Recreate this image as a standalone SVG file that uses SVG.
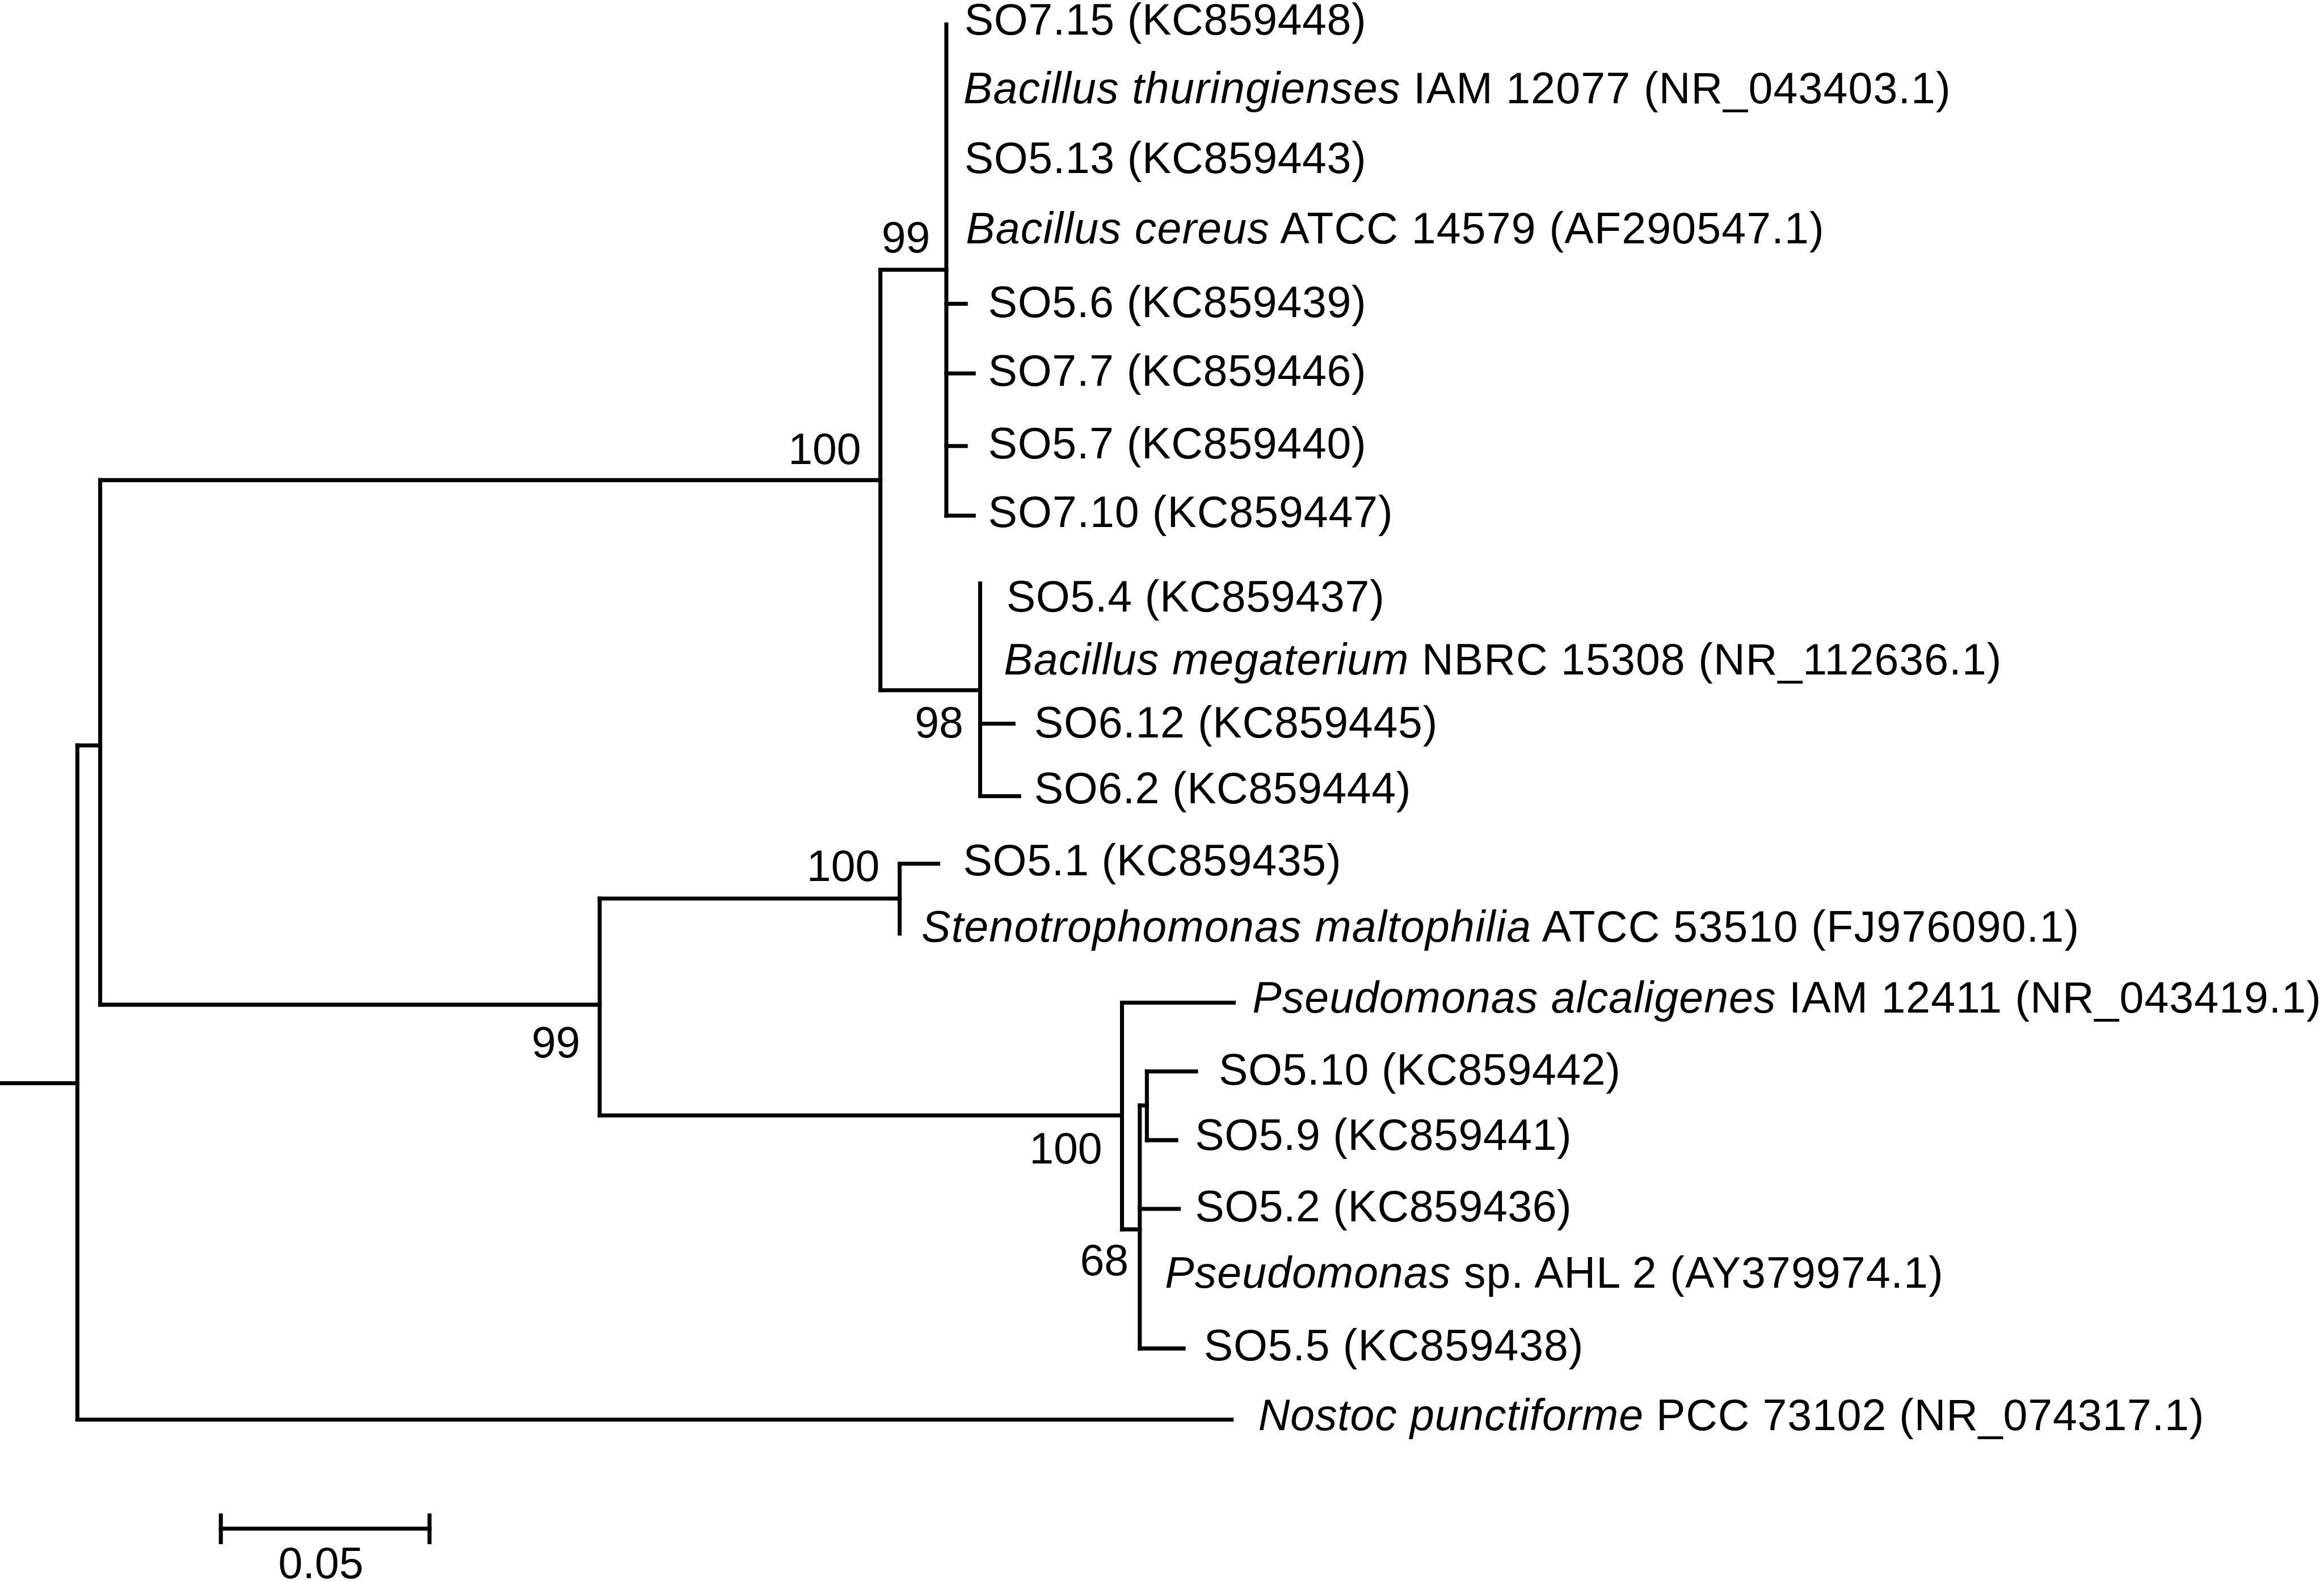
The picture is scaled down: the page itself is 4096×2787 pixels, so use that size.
<svg xmlns="http://www.w3.org/2000/svg" width="4096" height="2787" viewBox="0 0 4096 2787">
<style>
.br{fill:none;stroke:#000;stroke-width:2.7;stroke-linecap:square;stroke-linejoin:miter}
.lb{font-family:"Liberation Sans",Arial,sans-serif;font-size:29.5px;fill:#000}
.bs{font-family:"Liberation Sans",Arial,sans-serif;font-size:29.5px;fill:#000;text-anchor:end}
.it{font-style:italic}
</style>
<rect width="4096" height="2787" fill="#fff"/>
<g transform="scale(2.612245)">
<g id="connectors" class="br">
<path d="M0 731 H52.2"/>
<path d="M52.2 503 V958"/>
<path d="M52.2 503 H67.6"/>
<path d="M52.2 958 H831"/>
<path d="M67.6 324 V678"/>
<path d="M67.6 324 H594"/>
<path d="M67.6 678 H404.6"/>
<path d="M594 182 V465.8"/>
<path d="M594 182 H638.5"/>
<path d="M594 465.8 H661.3"/>
<path d="M638.5 16.5 V348"/>
<path d="M638.5 205 H651.6"/>
<path d="M638.5 252 H657"/>
<path d="M638.5 301 H651.6"/>
<path d="M638.5 348 H657"/>
<path d="M661.3 393.7 V537.3"/>
<path d="M661.3 488.4 H683.8"/>
<path d="M661.3 537.3 H687.6"/>
<path d="M404.6 606.4 V752.7"/>
<path d="M404.6 606.4 H607"/>
<path d="M404.6 752.7 H757"/>
<path d="M607 582.8 V630"/>
<path d="M607 582.8 H633"/>
<path d="M757 676.6 V829.6"/>
<path d="M757 676.6 H832.4"/>
<path d="M757 829.6 H769"/>
<path d="M769 746 V910"/>
<path d="M769 746 H773.8"/>
<path d="M773.8 723 V769.4"/>
<path d="M773.8 723 H807"/>
<path d="M773.8 769.4 H793.6"/>
<path d="M769 815.8 H795.3"/>
<path d="M769 910 H798.6"/>
<path d="M149 1031.6 H289.8"/>
<path d="M149 1022.7 V1040.7"/>
<path d="M289.8 1022.7 V1040.7"/>
</g>
<g id="leaf-SO7-15"><text class="lb" x="650.7" y="23.5" textLength="271" lengthAdjust="spacing">SO7.15 (KC859448)</text></g>
<g id="leaf-Bthur"><text class="lb" x="650" y="69.8" textLength="666" lengthAdjust="spacing"><tspan class="it">Bacillus thuringienses</tspan> IAM 12077 (NR_043403.1)</text></g>
<g id="leaf-SO5-13"><text class="lb" x="650.7" y="116.7" textLength="271" lengthAdjust="spacing">SO5.13 (KC859443)</text></g>
<g id="leaf-Bcereus"><text class="lb" x="651.6" y="164.3" textLength="579" lengthAdjust="spacing"><tspan class="it">Bacillus cereus</tspan> ATCC 14579 (AF290547.1)</text></g>
<g id="leaf-SO5-6"><text class="lb" x="666.7" y="213.9" textLength="255" lengthAdjust="spacing">SO5.6 (KC859439)</text></g>
<g id="leaf-SO7-7"><text class="lb" x="666.7" y="260.3" textLength="255" lengthAdjust="spacing">SO7.7 (KC859446)</text></g>
<g id="leaf-SO5-7"><text class="lb" x="666.7" y="309.3" textLength="255" lengthAdjust="spacing">SO5.7 (KC859440)</text></g>
<g id="leaf-SO7-10"><text class="lb" x="666.7" y="355.7" textLength="273" lengthAdjust="spacing">SO7.10 (KC859447)</text></g>
<g id="leaf-SO5-4"><text class="lb" x="679" y="412.5" textLength="255" lengthAdjust="spacing">SO5.4 (KC859437)</text></g>
<g id="leaf-Bmega"><text class="lb" x="677.3" y="455.3" textLength="673" lengthAdjust="spacing"><tspan class="it">Bacillus megaterium</tspan> NBRC 15308 (NR_112636.1)</text></g>
<g id="leaf-SO6-12"><text class="lb" x="697.8" y="497.8" textLength="272" lengthAdjust="spacing">SO6.12 (KC859445)</text></g>
<g id="leaf-SO6-2"><text class="lb" x="697.8" y="542" textLength="254" lengthAdjust="spacing">SO6.2 (KC859444)</text></g>
<g id="leaf-SO5-1"><text class="lb" x="649.8" y="590.6" textLength="255" lengthAdjust="spacing">SO5.1 (KC859435)</text></g>
<g id="leaf-Steno"><text class="lb" x="621.7" y="635.3" textLength="781" lengthAdjust="spacing"><tspan class="it">Stenotrophomonas maltophilia</tspan> ATCC 53510 (FJ976090.1)</text></g>
<g id="leaf-Palc"><text class="lb" x="845" y="683.3" textLength="721" lengthAdjust="spacing"><tspan class="it">Pseudomonas alcaligenes</tspan> IAM 12411 (NR_043419.1)</text></g>
<g id="leaf-SO5-10"><text class="lb" x="822.3" y="732" textLength="271" lengthAdjust="spacing">SO5.10 (KC859442)</text></g>
<g id="leaf-SO5-9"><text class="lb" x="806.3" y="776" textLength="254" lengthAdjust="spacing">SO5.9 (KC859441)</text></g>
<g id="leaf-SO5-2"><text class="lb" x="806.3" y="824.3" textLength="254" lengthAdjust="spacing">SO5.2 (KC859436)</text></g>
<g id="leaf-Psp"><text class="lb" x="786" y="869" textLength="525" lengthAdjust="spacing"><tspan class="it">Pseudomonas</tspan> sp. AHL 2 (AY379974.1)</text></g>
<g id="leaf-SO5-5"><text class="lb" x="812.2" y="918" textLength="256" lengthAdjust="spacing">SO5.5 (KC859438)</text></g>
<g id="leaf-Nostoc"><text class="lb" x="849" y="965" textLength="638" lengthAdjust="spacing"><tspan class="it">Nostoc punctiforme</tspan> PCC 73102 (NR_074317.1)</text></g>
<g id="boot-cereus"><text class="bs" x="627.6" y="170.5">99</text></g>
<g id="boot-bacillus"><text class="bs" x="581" y="313">100</text></g>
<g id="boot-mega"><text class="bs" x="650" y="497.8">98</text></g>
<g id="boot-steno"><text class="bs" x="593.5" y="594.6">100</text></g>
<g id="boot-gamma"><text class="bs" x="391.5" y="713.5">99</text></g>
<g id="boot-pseudo"><text class="bs" x="743.7" y="785">100</text></g>
<g id="boot-68"><text class="bs" x="761.5" y="860.5">68</text></g>
<g id="scale-label"><text class="lb" x="216.5" y="1065" text-anchor="middle">0.05</text></g>
</g>
</svg>
